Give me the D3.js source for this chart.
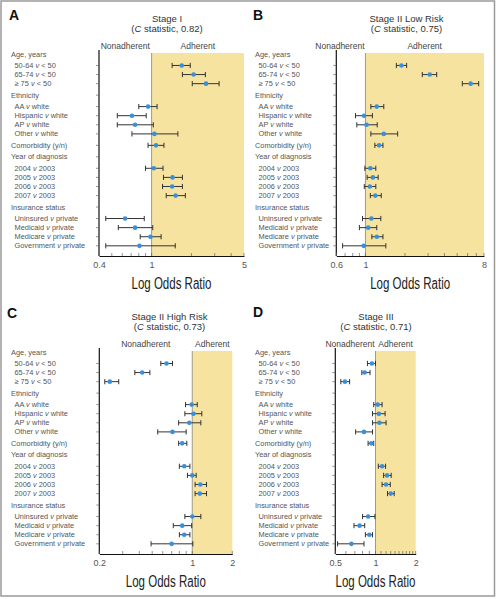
<!DOCTYPE html>
<html><head><meta charset="utf-8">
<script src="https://cdn.jsdelivr.net/npm/d3@7"></script>
<style>body{margin:0;background:#fff}svg{display:block}text{font-family:"Liberation Sans",Arial,sans-serif}</style>
</head><body>
<script>
const rowLabels = ["Age, years","50-64 v < 50","65-74 v < 50","≥ 75 v < 50","Ethnicity","AA v white","Hispanic v white","AP v white","Other v white","Comorbidity (y/n)","Year of diagnosis","2004 v 2003","2005 v 2003","2006 v 2003","2007 v 2003","Insurance status","Uninsured v private","Medicaid v private","Medicare v private","Government v private"];
const rowIsHeader = [1,0,0,0,1,0,0,0,0,1,1,0,0,0,0,1,0,0,0,0];

const panelLetters = ["A","B","C","D"];
const panelTitles = ["Stage I","Stage II Low Risk","Stage II High Risk","Stage III"];
const panelCStats = ["0.82","0.75","0.73","0.71"];
const panelDomains = [[0.4,5],[0.6,8],[0.2,2],[0.5,2]];
const panelTickLabels = [[0.4,1,5],[0.6,1,8],[0.2,1,2],[0.5,1,2]];

const stageI_or = [null,1.69,2.08,2.58,null,0.94,0.71,0.75,1.05,1.08,null,1.04,1.44,1.43,1.52,null,0.63,0.75,0.98,0.81];
const stageI_lo = [null,1.43,1.71,2.03,null,0.80,0.55,0.55,0.71,0.94,null,0.90,1.23,1.21,1.29,null,0.45,0.56,0.82,0.45];
const stageI_hi = [null,1.96,2.55,3.24,null,1.10,0.91,1.03,1.58,1.24,null,1.22,1.71,1.71,1.80,null,0.88,1.02,1.18,1.51];

const stageIILow_or = [null,1.88,3.09,6.33,null,1.22,0.975,1.02,1.38,1.27,null,1.09,1.14,1.08,1.19,null,1.11,1.05,1.22,0.97];
const stageIILow_lo = [null,1.72,2.71,5.47,null,1.10,0.84,0.86,1.10,1.18,null,0.99,1.03,0.98,1.09,null,0.95,0.90,1.12,0.67];
const stageIILow_hi = [null,2.06,3.49,7.29,null,1.38,1.13,1.23,1.76,1.36,null,1.20,1.25,1.20,1.32,null,1.31,1.22,1.36,1.43];

const stageIIHigh_or = [null,0.64,0.42,0.24,null,0.99,1.02,0.95,0.71,0.84,null,0.87,1.00,1.15,1.14,null,1.00,0.84,0.87,0.70];
const stageIIHigh_lo = [null,0.58,0.37,0.22,null,0.89,0.88,0.79,0.55,0.79,null,0.80,0.92,1.05,1.05,null,0.88,0.72,0.80,0.49];
const stageIIHigh_hi = [null,0.71,0.48,0.28,null,1.09,1.18,1.16,0.90,0.91,null,0.96,1.07,1.28,1.28,null,1.16,0.99,0.96,1.01];

const stageIII_or = [null,0.94,0.83,0.59,null,1.04,1.06,1.07,0.82,0.93,null,1.12,1.22,1.20,1.30,null,0.88,0.76,0.90,0.66];
const stageIII_lo = [null,0.87,0.79,0.55,null,0.97,0.95,0.95,0.71,0.88,null,1.05,1.15,1.12,1.23,null,0.80,0.69,0.84,0.52];
const stageIII_hi = [null,1.00,0.91,0.64,null,1.12,1.18,1.20,0.95,0.97,null,1.19,1.31,1.29,1.38,null,0.99,0.83,0.95,0.82];

const panelData = [
  [stageI_or,stageI_lo,stageI_hi],
  [stageIILow_or,stageIILow_lo,stageIILow_hi],
  [stageIIHigh_or,stageIIHigh_lo,stageIIHigh_hi],
  [stageIII_or,stageIII_lo,stageIII_hi]
];

// layout
const layout = [
  {x0:99, x1:244, oy:0, lx:11, letterX:9, letterY:20, titleX:167},
  {x0:336.3, x1:484, oy:0, lx:255, letterX:253, letterY:20, titleX:406.5},
  {x0:99.3, x1:232.3, oy:298, lx:11, letterX:7, letterY:318, titleX:169.5},
  {x0:335.3, x1:415.7, oy:298, lx:255, letterX:253, letterY:317, titleX:376}
];

const W=496,H=599;
const svg = d3.select("body").append("svg").attr("width",W).attr("height",H);

svg.append("rect").attr("x",1).attr("y",1).attr("width",W-2.5).attr("height",595)
  .attr("fill","none").attr("stroke","#9a9a9a").attr("stroke-width",1.5);

// slot positions (header transitions get extra gap)
const slots=[]; let s=0;
rowLabels.forEach((d,i)=>{ if(i>0){ s+=1; if(rowIsHeader[i]||rowIsHeader[i-1]) s+=0.26; } slots.push(s); });
const slotMax = slots[slots.length-1];

function addLabel(sel, label){
  const parts = label.split(" v ");
  if(parts.length===2){
    sel.append("tspan").text(parts[0]+" ");
    sel.append("tspan").attr("font-style","italic").text("v");
    sel.append("tspan").text(" "+parts[1]);
  } else sel.text(label);
}

layout.forEach((L,p)=>{
  const g = svg.append("g");
  const oy=L.oy;
  const x = d3.scaleLog().domain(panelDomains[p]).range([L.x0,L.x1]);
  const y = d3.scaleLinear().domain([0,slotMax]).range([oy+54, oy+54+slotMax*9.1]);
  const axisY = oy+256, topY = oy+50;
  const [orv,lov,hiv] = panelData[p];

  // shade
  g.append("rect").attr("x",x(1)).attr("y",oy+53).attr("width",L.x1-x(1)).attr("height",axisY-(oy+53))
    .attr("fill","#F6E3A0");
  g.append("line").attr("x1",x(1)).attr("x2",x(1)).attr("y1",oy+53).attr("y2",axisY)
    .attr("stroke","#a09a80").attr("stroke-width",1);

  // letter & titles
  g.append("text").attr("x",L.letterX).attr("y",L.letterY).attr("font-size",14).attr("font-weight","bold")
    .attr("fill","#111").text(panelLetters[p]);
  g.append("text").attr("x",L.titleX).attr("y",oy+22).attr("text-anchor","middle").attr("font-size",9.5)
    .attr("fill","#333").text(panelTitles[p]);
  const t2 = g.append("text").attr("x",L.titleX).attr("y",oy+32).attr("text-anchor","middle").attr("font-size",9.5).attr("fill","#333");
  t2.append("tspan").text("(");
  t2.append("tspan").attr("font-style","italic").text("C");
  t2.append("tspan").text(" statistic, "+panelCStats[p]+")");

  const nonW = 49;
  const nonX = Math.min((L.x0+x(1))/2, x(1)-nonW/2-1);
  g.append("text").attr("x",nonX).attr("y",oy+48.5).attr("text-anchor","middle").attr("font-size",8.5)
    .attr("fill","#444").text("Nonadherent");
  g.append("text").attr("x",(x(1)+L.x1)/2).attr("y",oy+48.5).attr("text-anchor","middle").attr("font-size",8.5)
    .attr("fill","#444").text("Adherent");

  // row labels
  rowLabels.forEach((lab,i)=>{
    const t = g.append("text").attr("x", rowIsHeader[i]?L.lx:L.lx+3.5).attr("y",y(slots[i])+2.6)
      .attr("font-size",7.4).attr("fill","#555");
    addLabel(t, lab);
  });

  // y axis
  g.append("line").attr("x1",L.x0).attr("x2",L.x0).attr("y1",topY).attr("y2",axisY).attr("stroke","#111").attr("stroke-width",1.2);
  rowLabels.forEach((lab,i)=>{
    if(i===0) return;
    g.append("line").attr("x1",L.x0-3).attr("x2",L.x0).attr("y1",y(slots[i])).attr("y2",y(slots[i]))
      .attr("stroke","#666").attr("stroke-width",0.7);
  });

  // x axis
  const xAxis = d3.axisBottom(x).tickValues(panelTickLabels[p]).tickSize(0).tickFormat(d3.format("~g"));
  const ax = g.append("g").attr("transform",`translate(0,${axisY})`).call(xAxis);
  ax.select(".domain").attr("stroke","#111").attr("stroke-width",1.2);
  ax.selectAll(".tick text").attr("font-size",9).attr("fill","#555").attr("dy","1.05em");
  // minor ticks
  const [d0,d1]=panelDomains[p];
  const minor = x.ticks(20).filter(v=>v>=d0-1e-9 && v<=d1+1e-9);
  g.selectAll(null).data(minor).join("line")
    .attr("x1",d=>x(d)).attr("x2",d=>x(d)).attr("y1",axisY-3).attr("y2",axisY)
    .attr("stroke","#666").attr("stroke-width",0.7);

  g.append("text").attr("x",(L.x0+L.x1)/2).attr("y",oy+289).attr("text-anchor","middle")
    .attr("font-size",16).attr("fill","#222").attr("textLength",80).attr("lengthAdjust","spacingAndGlyphs")
    .text("Log Odds Ratio");

  // error bars
  const idx = orv.map((v,i)=>i).filter(i=>orv[i]!=null);
  const eb = g.append("g");
  idx.forEach(i=>{
    const yy=y(slots[i]);
    eb.append("line").attr("x1",x(lov[i])).attr("x2",x(hiv[i])).attr("y1",yy).attr("y2",yy)
      .attr("stroke","#333").attr("stroke-width",1);
    [lov[i],hiv[i]].forEach(v=>{
      eb.append("line").attr("x1",x(v)).attr("x2",x(v)).attr("y1",yy-2.6).attr("y2",yy+2.6)
        .attr("stroke","#333").attr("stroke-width",1);
    });
  });
  g.selectAll(null).data(idx).join("circle")
    .attr("cx",i=>x(orv[i])).attr("cy",i=>y(slots[i])).attr("r",2.3).attr("fill","#3a8fdc");
});
</script>
</body></html>
